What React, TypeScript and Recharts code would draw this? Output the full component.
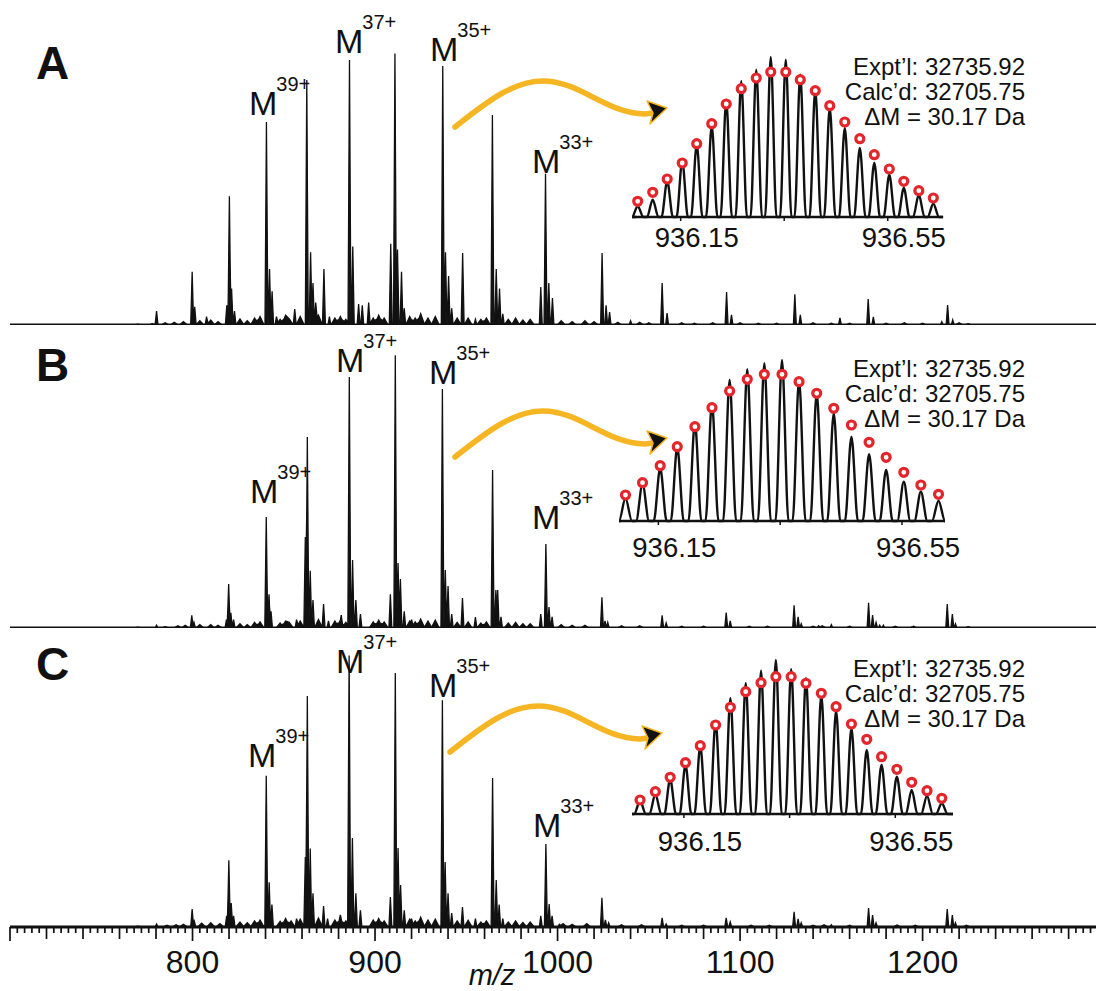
import { ComposedChart, Area, Line, Scatter, XAxis, YAxis, ReferenceLine } from "recharts";

const W = 1096;
const H = 991;
const FONT = "'Liberation Sans', Arial, Helvetica, sans-serif";
const ORANGE = "#f6b523";
const RED = "#e3262b";

// survey m/z range
const MZ_MIN = 700;
const MZ_MAX = 1295;
const mzLabels = [800, 900, 1000, 1100, 1200];

// [m/z, relative intensity] — main peaks and their adduct shoulders
const peaksA: [number, number][] = [
  [780.3, 5], [799.8, 19], [801.2, 6.5], [807.7, 3], [818.8, 7], [820.2, 46], [821.4, 13], [823, 5],
  [840.5, 72.5], [842.2, 20], [843.6, 12], [846, 3], [856, 5.7], [862.6, 87.5], [864.7, 26], [866, 15],
  [867.5, 8], [872, 20], [875, 3], [886, 94.6], [887.8, 28], [891, 7.5], [893, 7], [896.5, 8],
  [908.6, 29], [910.9, 97], [912.3, 27], [914.5, 19], [916, 6], [937.1, 92.5], [938.6, 26], [940.3, 17.5],
  [942, 6], [948, 25.7], [955, 2], [964.3, 75], [966.4, 20], [968.2, 13], [970, 4], [990.8, 13.6],
  [993.4, 54], [995.2, 15], [997.2, 9.6], [1024.4, 25.7], [1026.6, 7], [1028.5, 4.6], [1040, 1.5],
  [1057.3, 15], [1060, 4.3], [1092.6, 11.8], [1095.3, 3.6], [1130, 11], [1133, 3.6], [1154.7, 2.5],
  [1170.2, 9.3], [1173, 2.9], [1210.5, 1.2], [1213.7, 7.1], [1216.5, 1.8],
];
const peaksB: [number, number][] = [
  [780.3, 1], [799.6, 4.5], [800.8, 2], [818.6, 3], [819.8, 15.7], [821, 5.4], [822.5, 3],
  [840.4, 39.6], [841.9, 12], [843, 6], [857, 3], [861.8, 32.5], [862.9, 68.2], [864.5, 20.4], [866, 10],
  [871.8, 8.6], [874.5, 2.5], [881.5, 4.6], [885.9, 89.6], [887.7, 24.3], [889.5, 10], [892, 5],
  [908.4, 12], [911.1, 97.4], [912.6, 23.2], [913.9, 17.5], [916, 6], [920, 3], [936.9, 85.4],
  [938.5, 20.7], [940, 15], [942, 5], [947.9, 10.7], [955, 3.9], [964.4, 56.4], [966.2, 13.6],
  [967.2, 13.6], [969, 4], [990.8, 5], [993.6, 30], [995.3, 7.5], [997, 4], [1024.3, 11], [1026, 2.5],
  [1027.5, 2], [1057.3, 4.5], [1059.5, 1.8], [1092.4, 5.5], [1094.6, 2.5], [1129.6, 8.1], [1131.8, 4],
  [1133.5, 1.5], [1143, 0.8], [1150, 1.2], [1170.4, 9], [1172.6, 4.6], [1174.5, 2], [1176.5, 1],
  [1178.5, 1], [1213.5, 8.6], [1216.3, 5], [1218, 1.5],
];
const peaksC: [number, number][] = [
  [780.3, 1.1], [799.8, 6.4], [801, 2], [818.7, 4], [819.9, 23.8], [821.2, 8.6], [822.5, 4],
  [840.4, 54], [842, 16], [843.5, 8], [857, 3], [861.8, 25], [862.9, 82.5], [864.5, 28], [866, 12],
  [871.8, 7.5], [874, 3], [881, 4.3], [885.8, 97], [887.6, 31.8], [889.5, 12], [892, 6],
  [908.4, 10.7], [911.1, 90.7], [912.6, 28.2], [914, 15], [916, 6], [920, 3], [936.9, 81],
  [938.4, 23.2], [940, 12], [942, 5], [947.9, 7.1], [955, 3], [964.4, 53.2], [966.4, 16.8], [968, 8],
  [970, 3], [990.8, 4], [993.6, 29.6], [995.4, 8.2], [997, 4], [1001, 1], [1024.3, 10.4], [1026.2, 2.5],
  [1028, 1.5], [1057.3, 3.3], [1059.5, 1.1], [1092.4, 3.3], [1094.6, 1.8], [1129.6, 5.4], [1131.8, 2.9],
  [1133.5, 1.5], [1150, 0.8], [1170.4, 6.8], [1172.6, 4.3], [1174.5, 1.5], [1213.5, 6.4], [1216.3, 4.3],
  [1218, 1.5],
];

// low-level chemical noise along the baseline
const grassA: [number, number][] = [
  [770, 0.3], [778, 0.5], [785, 0.8], [790, 1], [795, 1.2], [804, 1.5], [810, 1.8], [814, 1.2], [826, 2.2],
  [830, 1.5], [834, 2.5], [837, 3], [848, 2], [851, 3.5], [853, 2.2], [859, 3], [869, 3.5], [878, 2.5],
  [881, 3], [884, 2], [899, 2.5], [902, 3.5], [905, 2.5], [919, 3], [922, 2.5], [925, 4], [929, 2.5],
  [933, 3], [945, 2.5], [951, 2.5], [958, 2], [961, 2.5], [973, 2], [977, 2.5], [981, 1.8], [985, 2],
  [1002, 1.5], [1008, 1.2], [1015, 1.5], [1020, 1.2], [1033, 1], [1045, 1], [1050, 0.8], [1068, 0.8],
  [1075, 0.6], [1085, 0.8], [1100, 0.8], [1110, 0.6], [1120, 0.6], [1140, 0.8], [1150, 0.6], [1160, 0.6],
  [1180, 0.6], [1190, 0.8], [1200, 0.6], [1220, 0.8], [1225, 0.5],
];
const grassB: [number, number][] = [
  [770, 0.3], [785, 0.5], [792, 0.8], [796, 1], [804, 1.2], [810, 1.2], [814, 1], [826, 1.5], [830, 1.2],
  [834, 2], [837, 2.2], [848, 1.8], [851, 2.5], [853, 2], [859, 2.5], [869, 3], [878, 2.5], [881, 2.8],
  [884, 2], [899, 2.2], [902, 2.8], [905, 2.2], [919, 2.5], [922, 2.2], [925, 3.2], [929, 2.5], [933, 2.8],
  [945, 2], [951, 2.2], [958, 1.8], [961, 2.2], [973, 1.8], [977, 2], [981, 1.5], [985, 1.5], [1002, 1.2],
  [1008, 1], [1015, 1], [1035, 0.8], [1045, 0.8], [1068, 0.6], [1080, 0.6], [1105, 0.6], [1115, 0.6],
  [1140, 0.6], [1145, 0.8], [1160, 0.6], [1185, 0.6], [1195, 0.6], [1225, 0.5],
];
const grassC: [number, number][] = [
  [770, 0.3], [786, 0.6], [791, 0.8], [795, 1], [805, 1.4], [810, 1.5], [815, 1.2], [826, 1.8], [830, 1.5],
  [834, 2.2], [837, 2.5], [848, 2], [851, 3], [854, 2.2], [859, 2.8], [869, 3.2], [878, 2.5], [881, 3],
  [884, 2.2], [899, 2.5], [902, 3], [905, 2.2], [919, 2.8], [922, 2.2], [925, 3.5], [929, 2.5], [933, 2.8],
  [945, 2.2], [951, 2.4], [958, 1.8], [961, 2.2], [973, 1.8], [977, 2.2], [981, 1.6], [985, 1.8],
  [1003, 1.2], [1008, 1], [1016, 1.2], [1035, 0.8], [1046, 0.8], [1068, 0.6], [1080, 0.6], [1106, 0.6],
  [1116, 0.6], [1140, 0.6], [1146, 0.8], [1160, 0.6], [1186, 0.7], [1196, 0.6], [1224, 0.6],
];

// isotopic cluster of the 35+ ion (insets)
const isoMz = [
  936.067, 936.096, 936.124, 936.153, 936.181, 936.21, 936.238, 936.267, 936.296, 936.324, 936.353,
  936.381, 936.41, 936.438, 936.467, 936.496, 936.524, 936.553, 936.581, 936.61, 936.638,
];
const isoA = [10.7, 17.3, 35.7, 55.7, 72.3, 90.7, 115.7, 135.7, 147.3, 160, 157.3, 142.3, 127.3, 109, 89, 69, 54, 42.3, 29, 22.3, 13.3];
const fitA = [15.7, 24.7, 38, 54, 73.3, 93.3, 113, 128.3, 139, 145, 145, 137.3, 126.3, 111.3, 95, 78.3, 62.3, 48, 35.7, 26.3, 19];
const isoB = [22.7, 37, 52.7, 73.7, 97.7, 117.7, 141, 151.7, 157.7, 161, 141, 127.7, 107.7, 84.3, 66.7, 51, 39.3, 29.3, 20.3];
const fitB = [26, 38.3, 55.3, 74.3, 94.3, 113.3, 130, 141.7, 146.7, 146.7, 139.3, 127.7, 112.7, 96, 78.7, 63.7, 48.7, 36, 26.7];
const isoC = [13.3, 20, 34.7, 49, 68, 92.3, 115.7, 130.7, 143.3, 154, 144.7, 135.7, 119, 103.3, 85.7, 64, 49, 37.3, 24, 18, 10.7];
const fitC = [14, 22.3, 36.7, 51.3, 68.3, 89, 106.7, 122.3, 131.3, 137.3, 137.3, 130.7, 120.7, 107.3, 90, 74.7, 57.3, 44.7, 31.7, 23.3, 15.7];
const insetTicks = [936.15, 936.35, 936.55];

const annotation = ["Expt\u2019l: 32735.92", "Calc\u2019d: 32705.75", "\u0394M = 30.17 Da"];

function buildSurvey(peaks: [number, number][], grass: [number, number][]) {
  const tri: [number, number, number][] = [
    ...peaks.map(([m, h]) => [m, h, 0.8] as [number, number, number]),
    ...grass.map(([m, h]) => [m, h, 2.2] as [number, number, number]),
  ];
  const xs = new Set<number>([MZ_MIN, MZ_MAX]);
  tri.forEach(([m, , w]) => {
    xs.add(m - w);
    xs.add(m);
    xs.add(m + w);
  });
  return [...xs]
    .sort((a, b) => a - b)
    .map((x) => {
      let v = 0;
      for (const [m, h, w] of tri) {
        const d = Math.abs(x - m);
        if (d < w) v = Math.max(v, h * (1 - d / w));
      }
      return { mz: x, v };
    });
}

const surveyTicks: number[] = [];
for (let t = MZ_MIN; t <= MZ_MAX; t += 4) surveyTicks.push(t);

const renderMzTick = (props: any) => {
  const { x, y, payload } = props;
  const v = payload.value;
  const len = v % 100 === 0 ? 14 : v % 20 === 0 ? 12 : 6;
  return (
    <g>
      <line x1={x} y1={y} x2={x} y2={y + len} stroke="#111" strokeWidth={1.7} />
      {mzLabels.includes(v) && (
        <text x={x} y={y + 46} textAnchor="middle" fontSize={32} fill="#111" fontFamily={FONT}>
          {v}
        </text>
      )}
    </g>
  );
};

function Survey({ top, peaks, grass, axis }: { top: number; peaks: [number, number][]; grass: [number, number][]; axis?: boolean }) {
  const plotH = 280;
  const axisH = axis ? 64 : 0;
  const data = buildSurvey(peaks, grass);
  return (
    <div style={{ position: "absolute", left: 0, top }}>
      <ComposedChart width={W} height={plotH + axisH} data={data} margin={{ top: 0, right: 0, bottom: 0, left: 10 }}>
        <XAxis
          dataKey="mz"
          type="number"
          domain={[MZ_MIN, MZ_MAX]}
          allowDataOverflow
          hide={!axis}
          ticks={surveyTicks}
          interval={0}
          tickSize={0}
          tickMargin={0}
          tickLine={false}
          axisLine={{ stroke: "#111", strokeWidth: 3 }}
          tick={renderMzTick}
          height={axisH}
        />
        <YAxis hide dataKey="v" domain={[0, 100]} allowDataOverflow />
        <Area
          dataKey="v"
          type="linear"
          stroke="#111"
          strokeWidth={1.3}
          fill="#111"
          fillOpacity={1}
          dot={false}
          activeDot={false}
          isAnimationActive={false}
        />
        {!axis && <ReferenceLine y={0} stroke="#111" strokeWidth={3} />}
      </ComposedChart>
    </div>
  );
}

const Ring = (props: any) => (
  <circle cx={props.cx} cy={props.cy} r={4} fill="#fff" stroke={RED} strokeWidth={3.2} />
);

function Inset({
  left, right, base, domain, mz, heights, fit, labelDy,
}: {
  left: number; right: number; base: number; domain: [number, number];
  mz: number[]; heights: number[]; fit: number[]; labelDy: number;
}) {
  const m = 20;
  const plotH = 170;
  const spacing = mz[1] - mz[0];
  const profile: { mz: number; v: number }[] = [{ mz: domain[0], v: 0 }];
  mz.forEach((c, i) => {
    profile.push({ mz: c - 0.38 * spacing, v: 0 });
    profile.push({ mz: c, v: heights[i] });
    profile.push({ mz: c + 0.38 * spacing, v: 0 });
  });
  profile.push({ mz: domain[1], v: 0 });
  const circles = mz.map((c, i) => ({ mz: c, v: fit[i] }));
  const tick = (props: any) => {
    const { x, y, payload } = props;
    if (Math.abs(payload.value - 936.35) < 1e-6) return <g />;
    return (
      <text x={x + 16} y={y - 4 + labelDy} textAnchor="middle" fontSize={27.5} fill="#111" fontFamily={FONT}>
        {payload.value.toFixed(2)}
      </text>
    );
  };
  return (
    <div style={{ position: "absolute", left: left - m, top: base - plotH }}>
      <ComposedChart width={right - left + 2 * m} height={plotH + 45} margin={{ top: 0, right: m, bottom: 0, left: m }}>
        <XAxis
          dataKey="mz"
          type="number"
          domain={domain}
          ticks={insetTicks}
          interval={0}
          tickSize={4}
          tickMargin={0}
          tickLine={{ stroke: "#111", strokeWidth: 1.5 }}
          axisLine={{ stroke: "#111", strokeWidth: 2.5 }}
          tick={tick}
          height={45}
        />
        <YAxis hide dataKey="v" domain={[0, plotH]} />
        <Line data={profile} dataKey="v" type="monotone" stroke="#111" strokeWidth={2.4} dot={false} activeDot={false} isAnimationActive={false} />
        <Scatter data={circles} dataKey="v" shape={Ring} isAnimationActive={false} />
      </ComposedChart>
    </div>
  );
}

const panelLetters = [
  { t: "A", y: 79 },
  { t: "B", y: 381 },
  { t: "C", y: 680 },
];

const ionLabels = [
  { x: 249, y: 115, z: "39+" }, { x: 335, y: 53, z: "37+" }, { x: 430, y: 61, z: "35+" }, { x: 532, y: 173, z: "33+" },
  { x: 250, y: 503, z: "39+" }, { x: 336, y: 372, z: "37+" }, { x: 429, y: 384, z: "35+" }, { x: 532, y: 529, z: "33+" },
  { x: 248, y: 767, z: "39+" }, { x: 336, y: 673, z: "37+" }, { x: 429, y: 697, z: "35+" }, { x: 533, y: 837, z: "33+" },
];

const arrowStarts = [
  [455, 127],
  [455, 457],
  [450, 752],
];
const annotationTops = [75, 377, 677];

export default function App() {
  return (
    <div style={{ position: "absolute", left: 0, top: 0, width: W, height: H, background: "#fff", overflow: "hidden" }}>
      <Survey top={45} peaks={peaksA} grass={grassA} />
      <Survey top={348} peaks={peaksB} grass={grassB} />
      <Survey top={647} peaks={peaksC} grass={grassC} axis />

      <Inset left={631.8} right={942.9} base={217.3} domain={[936.0643, 936.6569]} mz={isoMz} heights={isoA} fit={fitA} labelDy={30} />
      <Inset left={619} right={945} base={521} domain={[936.0887, 936.6188]} mz={isoMz.slice(1, 20)} heights={isoB} fit={fitB} labelDy={36} />
      <Inset left={631.7} right={952.7} base={814} domain={[936.0518, 936.6592]} mz={isoMz} heights={isoC} fit={fitC} labelDy={37} />

      <svg width={W} height={H} style={{ position: "absolute", left: 0, top: 0, pointerEvents: "none" }} fontFamily={FONT}>
        {panelLetters.map((p) => (
          <text key={p.t} x={36} y={p.y} fontSize={46} fontWeight="bold" fill="#111">
            {p.t}
          </text>
        ))}
        {ionLabels.map((l, i) => (
          <text key={i} x={l.x} y={l.y} fontSize={34} fill="#111">
            M
            <tspan fontSize={20} dx={-1} dy={-24}>
              {l.z}
            </tspan>
          </text>
        ))}
        {arrowStarts.map(([x, y], i) => (
          <g key={i} transform={`translate(${x},${y})`}>
            <path
              d="M0,0 C35,-28 60,-46 88,-46 C125,-46 150,-14 190,-13 L198,-14"
              fill="none"
              stroke={ORANGE}
              strokeWidth={5.5}
              strokeLinecap="round"
            />
            <polygon points="212,-19 192,-26 198,-14 195,-3" fill="#111" stroke={ORANGE} strokeWidth={1.5} strokeLinejoin="round" />
          </g>
        ))}
        {annotationTops.map((y0, i) => (
          <text key={i} fontSize={24} fill="#111" textAnchor="end">
            {annotation.map((s, j) => (
              <tspan key={j} x={1025} y={y0 + j * 25}>
                {s}
              </tspan>
            ))}
          </text>
        ))}
        <text x={492} y={985} fontSize={29} fontStyle="italic" textAnchor="middle" fill="#111">
          m/z
        </text>
      </svg>
    </div>
  );
}
